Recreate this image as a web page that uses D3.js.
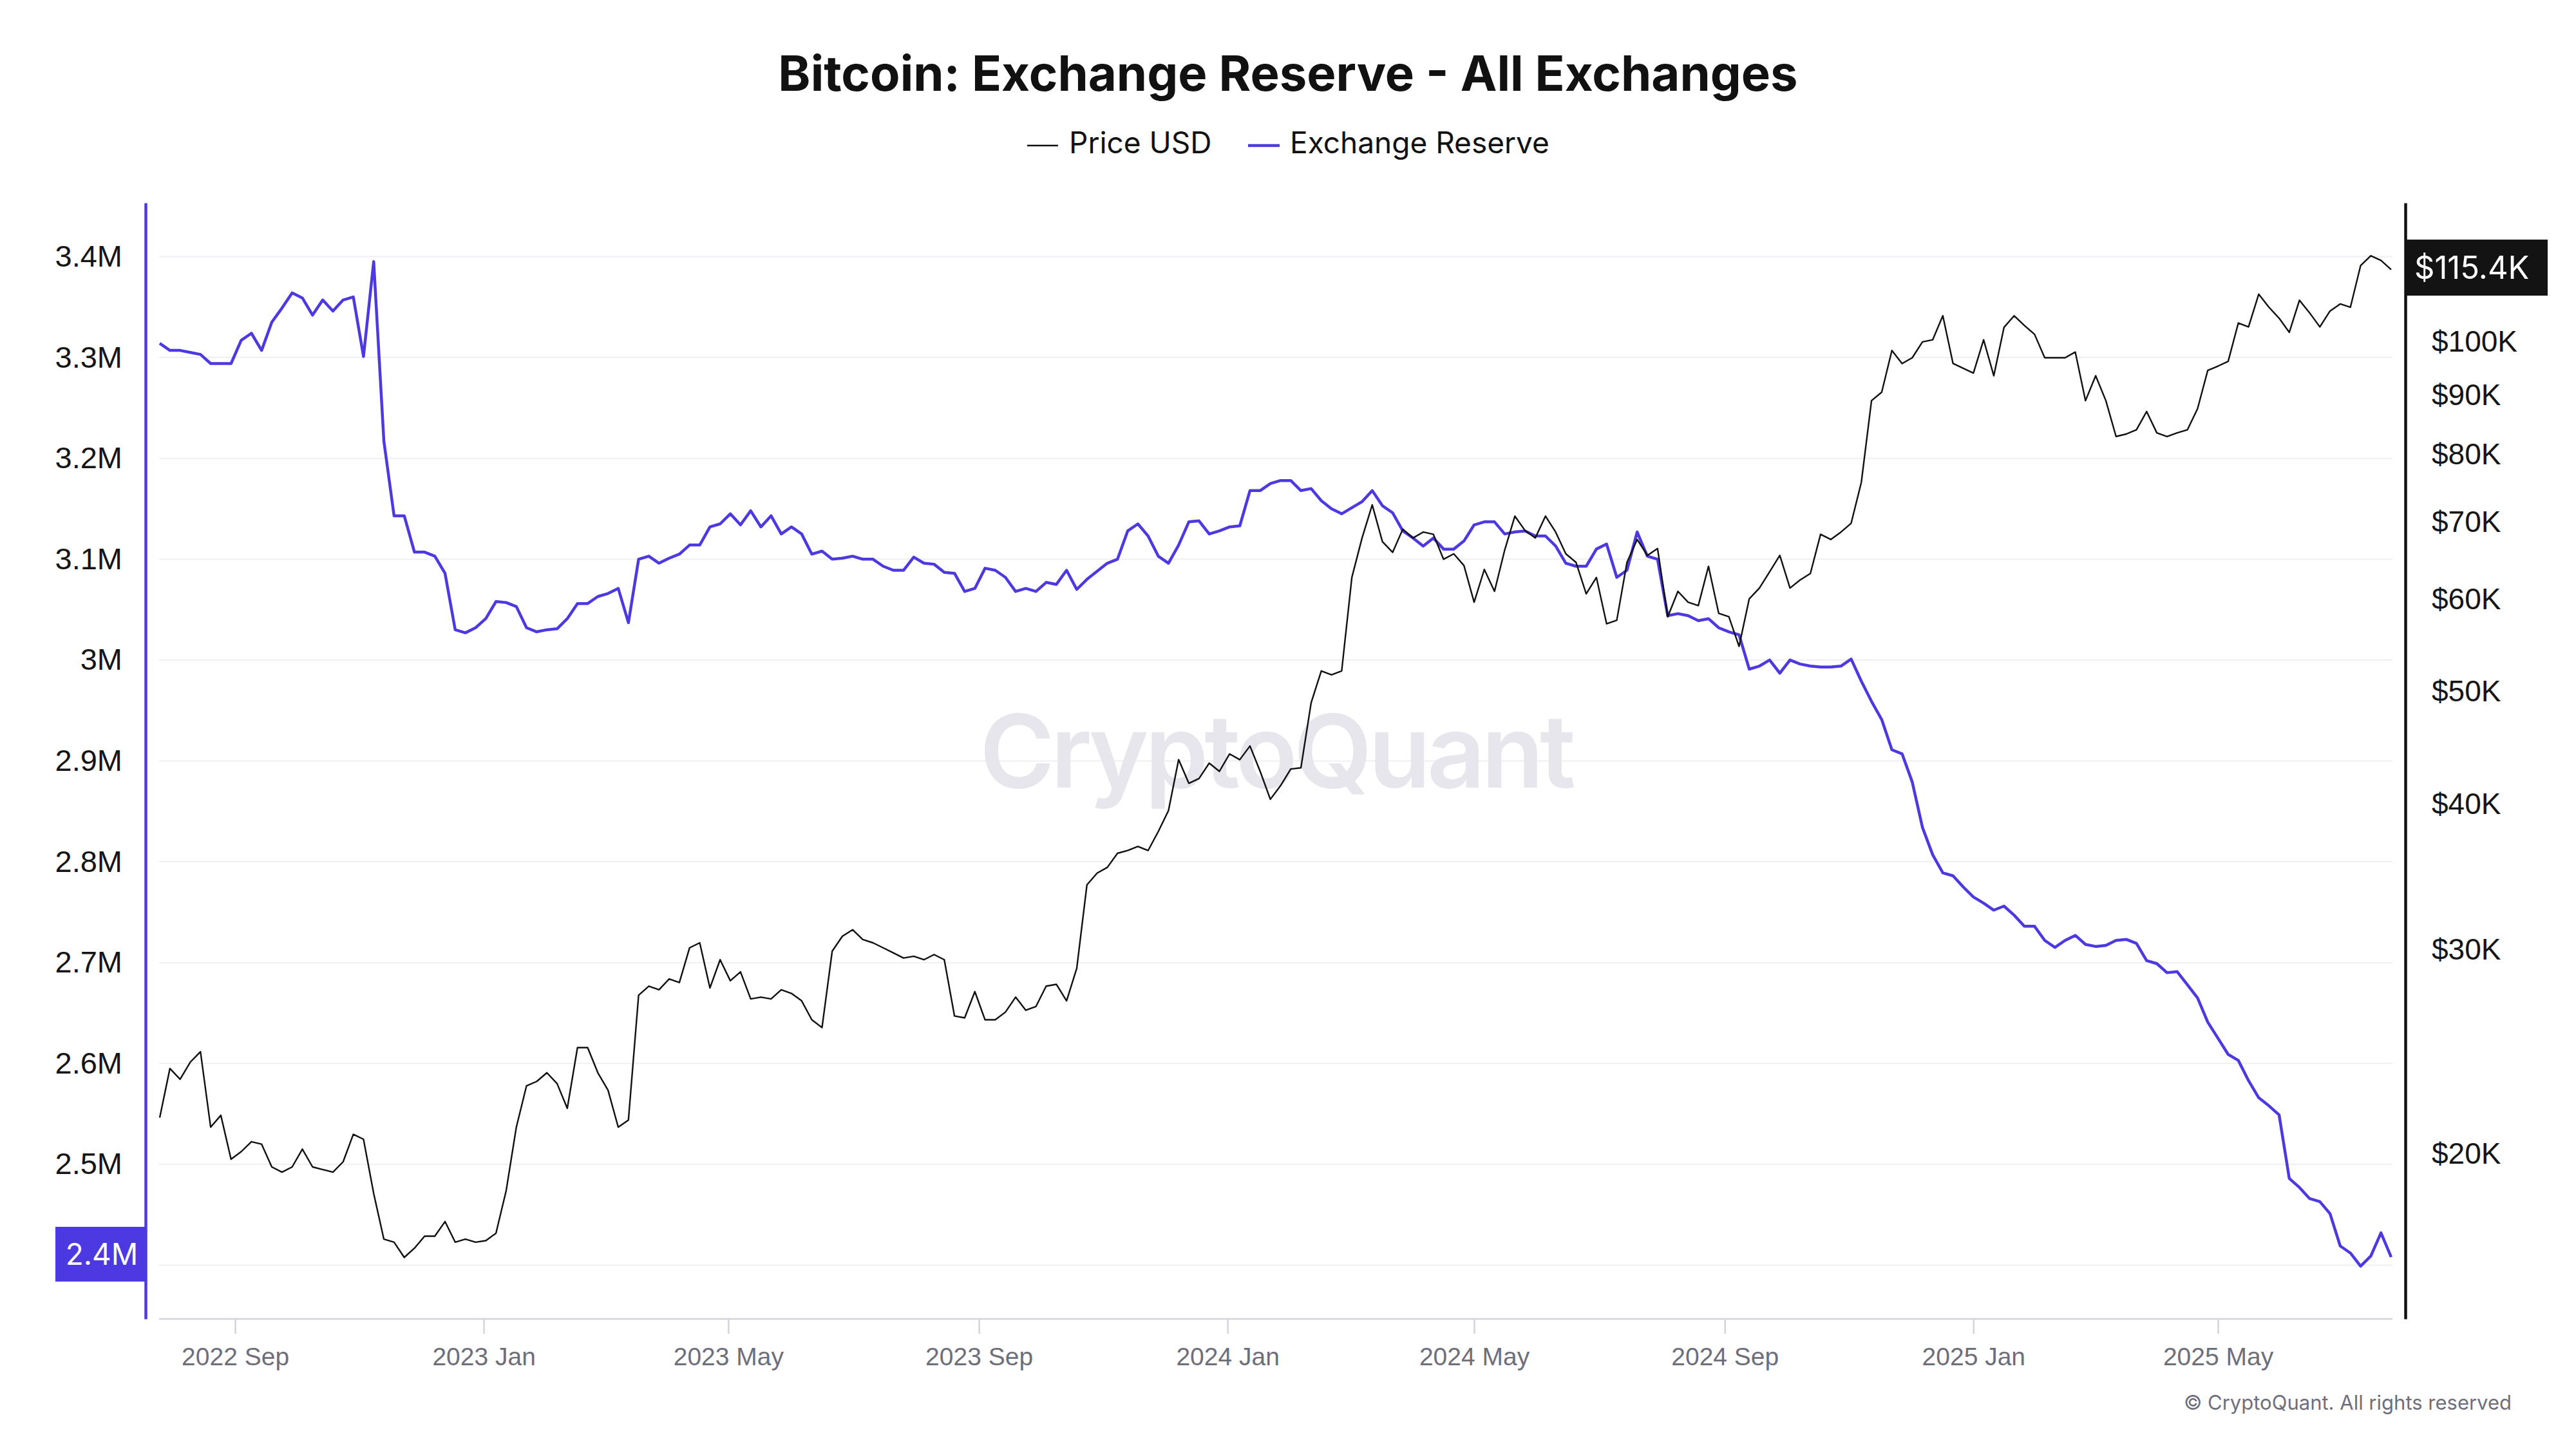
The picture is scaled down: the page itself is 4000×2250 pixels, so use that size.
<!DOCTYPE html>
<html>
<head>
<meta charset="utf-8">
<title>Bitcoin: Exchange Reserve - All Exchanges</title>
<script src="https://d3js.org/d3.v7.min.js"></script>
<style>
  body { margin: 0; background: #fff; }
  svg { display: block; font-family: Inter, "Noto Sans", sans-serif; }
  .grid line { stroke: #efeff3; stroke-width: 2; }
  .xaxis path, .xaxis line { stroke: #d3d3db; stroke-width: 2.5; }
  .xaxis text { fill: #6e6e7a; font-size: 39px; }
  .laxis text, .raxis text { fill: #151515; }
</style>
</head>
<body>
<script>
const width = 4000, height = 2250;

// one reading every 5 days, starting 2022-07-26
const startDate = "2022-07-26";
const stepDays = 5;

// Exchange reserve, million BTC
const reserveM = [
  3.314, 3.307, 3.307, 3.305, 3.303, 3.294, 3.294, 3.294, 3.317, 3.324,
  3.307, 3.335, 3.349, 3.364, 3.359, 3.342, 3.357, 3.346, 3.357, 3.360,
  3.301, 3.395, 3.217, 3.143, 3.143, 3.107, 3.107, 3.103, 3.086, 3.030,
  3.027, 3.032, 3.041, 3.058, 3.057, 3.053, 3.032, 3.028, 3.030, 3.031,
  3.041, 3.056, 3.056, 3.063, 3.066, 3.071, 3.037, 3.100, 3.103, 3.096,
  3.101, 3.105, 3.114, 3.114, 3.132, 3.135, 3.145, 3.134, 3.148, 3.132,
  3.143, 3.125, 3.132, 3.125, 3.105, 3.108, 3.100, 3.101, 3.103, 3.100,
  3.100, 3.093, 3.089, 3.089, 3.102, 3.096, 3.095, 3.087, 3.086, 3.068,
  3.071, 3.091, 3.089, 3.082, 3.068, 3.071, 3.068, 3.077, 3.075, 3.089,
  3.070, 3.080, 3.088, 3.096, 3.100, 3.128, 3.135, 3.123, 3.103, 3.096,
  3.114, 3.137, 3.138, 3.125, 3.128, 3.132, 3.133, 3.168, 3.168, 3.175,
  3.178, 3.178, 3.168, 3.170, 3.158, 3.150, 3.145, 3.151, 3.157, 3.168,
  3.153, 3.146, 3.128, 3.121, 3.113, 3.121, 3.110, 3.110, 3.118, 3.134,
  3.137, 3.137, 3.125, 3.127, 3.128, 3.123, 3.123, 3.113, 3.096, 3.093,
  3.093, 3.110, 3.115, 3.082, 3.089, 3.127, 3.103, 3.100, 3.044, 3.046,
  3.044, 3.039, 3.041, 3.032, 3.028, 3.025, 2.991, 2.994, 3.000, 2.987,
  3.000, 2.996, 2.994, 2.993, 2.993, 2.994, 3.001, 2.979, 2.959, 2.941,
  2.911, 2.907, 2.879, 2.834, 2.807, 2.789, 2.786, 2.775, 2.765, 2.759,
  2.752, 2.756, 2.747, 2.736, 2.736, 2.722, 2.715, 2.722, 2.727, 2.718,
  2.716, 2.717, 2.722, 2.723, 2.719, 2.702, 2.699, 2.690, 2.691, 2.678,
  2.665, 2.641, 2.625, 2.609, 2.603, 2.583, 2.566, 2.558, 2.549, 2.486,
  2.477, 2.466, 2.463, 2.451, 2.419, 2.412, 2.399, 2.409, 2.432, 2.408
];

// Price USD, thousands
const priceK = [
  21.5, 23.7, 23.2, 24.0, 24.5, 21.1, 21.6, 19.8, 20.1, 20.5,
  20.4, 19.5, 19.3, 19.5, 20.2, 19.5, 19.4, 19.3, 19.7, 20.8,
  20.6, 18.5, 16.9, 16.8, 16.3, 16.6, 17.0, 17.0, 17.5, 16.8,
  16.9, 16.8, 16.85, 17.1, 18.6, 21.1, 22.9, 23.1, 23.5, 23.0,
  21.9, 24.7, 24.7, 23.5, 22.7, 21.1, 21.4, 27.4, 27.9, 27.7,
  28.3, 28.1, 30.1, 30.4, 27.8, 29.4, 28.2, 28.7, 27.2, 27.3,
  27.2, 27.7, 27.5, 27.1, 26.1, 25.7, 29.9, 30.8, 31.2, 30.6,
  30.4, 30.1, 29.8, 29.5, 29.6, 29.4, 29.7, 29.4, 26.3, 26.2,
  27.6, 26.1, 26.1, 26.5, 27.3, 26.6, 26.8, 27.9, 28.0, 27.1,
  28.9, 34.1, 34.9, 35.3, 36.3, 36.5, 36.8, 36.5, 37.9, 39.5,
  43.7, 41.7, 42.1, 43.4, 42.7, 44.2, 43.7, 44.9, 42.7, 40.4,
  41.5, 42.9, 43.0, 48.9, 52.1, 51.7, 52.1, 62.7, 67.8, 72.4,
  67.3, 65.9, 69.0, 67.8, 68.6, 68.3, 65.0, 65.7, 64.2, 59.7,
  63.7, 61.0, 66.2, 70.8, 68.8, 67.8, 70.8, 68.6, 65.7, 64.6,
  60.7, 62.7, 57.2, 57.6, 64.6, 67.6, 65.5, 66.4, 58.0, 61.0,
  59.7, 59.3, 64.1, 58.4, 58.0, 54.7, 60.1, 61.4, 63.4, 65.5,
  61.4, 62.4, 63.2, 68.3, 67.6, 68.6, 69.8, 75.7, 89.0, 90.5,
  98.3, 95.8, 96.9, 100.0, 100.4, 105.3, 95.8, 94.9, 94.0, 100.4,
  93.5, 102.9, 105.3, 103.3, 101.5, 96.9, 96.9, 96.9, 98.0, 89.0,
  93.5, 89.0, 82.9, 83.3, 84.0, 87.1, 83.5, 82.9, 83.5, 84.0,
  87.6, 94.5, 95.3, 96.2, 103.8, 103.0, 109.9, 107.1, 104.8, 101.9,
  108.6, 105.9, 103.0, 106.3, 107.8, 107.1, 116.3, 118.6, 117.5, 115.4
];

const reserveTicks = [2.4, 2.5, 2.6, 2.7, 2.8, 2.9, 3.0, 3.1, 3.2, 3.3, 3.4];
const priceTicks = [20, 30, 40, 50, 60, 70, 80, 90, 100];
const seriesNames = ["Price USD", "Exchange Reserve"];

const purple = "#4d39e2";

const t0 = d3.timeParse("%Y-%m-%d")(startDate);
const dates = reserveM.map((_, i) => d3.timeDay.offset(t0, i * stepDays));

const svg = d3.select("body").append("svg").attr("width", width).attr("height", height);

const x = d3.scaleTime().domain([dates[0], dates[dates.length - 1]]).range([248, 3713]);
const yL = d3.scaleLinear().domain([2.3467, 3.4533]).range([2048, 315]);
const yR = d3.scaleLog().domain([14.43, 131.7]).range([2048, 315]);

// title + legend
svg.append("text").attr("x", 2000).attr("y", 141).attr("text-anchor", "middle")
  .attr("font-size", 76).attr("font-weight", 700).attr("fill", "#111")
  .text("Bitcoin: Exchange Reserve - All Exchanges");

const legend = svg.append("g");
legend.append("line").attr("x1", 1595).attr("x2", 1643).attr("y1", 226).attr("y2", 226)
  .attr("stroke", "#111").attr("stroke-width", 2.5);
legend.append("text").attr("x", 1660).attr("y", 238).attr("font-size", 46).attr("fill", "#111").text(seriesNames[0]);
legend.append("line").attr("x1", 1938).attr("x2", 1987).attr("y1", 226).attr("y2", 226)
  .attr("stroke", purple).attr("stroke-width", 4.5);
legend.append("text").attr("x", 2003).attr("y", 238).attr("font-size", 46).attr("fill", "#111").text(seriesNames[1]);

// gridlines
svg.append("g").attr("class", "grid").selectAll("line").data(reserveTicks).join("line")
  .attr("x1", 247).attr("x2", 3715).attr("y1", d => yL(d)).attr("y2", d => yL(d));

// watermark
svg.append("text").attr("x", 1981).attr("y", 1223).attr("text-anchor", "middle")
  .attr("font-size", 158).attr("font-weight", 600).attr("fill", "#e6e6ec")
  .attr("letter-spacing", -6).text("CryptoQuant");

// x axis
svg.append("g").attr("class", "xaxis").attr("transform", "translate(0,2048)")
  .call(d3.axisBottom(x).ticks(d3.timeMonth.every(4)).tickFormat(d3.timeFormat("%Y %b"))
    .tickSize(23).tickSizeOuter(0).tickPadding(21))
  .call(g => g.select(".domain").attr("d", "M247,0H3715"));

// left axis
svg.append("g").attr("class", "laxis").attr("transform", "translate(226,0)")
  .call(d3.axisLeft(yL).tickValues(reserveTicks).tickFormat(d => d3.format("~g")(d) + "M")
    .tickSize(0).tickPadding(36))
  .call(g => g.select(".domain").attr("stroke", purple).attr("stroke-width", 4.5))
  .call(g => g.selectAll("text").attr("font-size", 47));

// right axis
svg.append("g").attr("class", "raxis").attr("transform", "translate(3735,0)")
  .call(d3.axisRight(yR).tickValues(priceTicks).tickFormat(d => "$" + d + "K")
    .tickSize(0).tickPadding(41))
  .call(g => g.select(".domain").attr("stroke", "#111").attr("stroke-width", 4.5))
  .call(g => g.selectAll("text").attr("font-size", 46));

// series
svg.append("path").datum(reserveM)
  .attr("fill", "none").attr("stroke", purple).attr("stroke-width", 4.5).attr("stroke-linejoin", "round")
  .attr("d", d3.line().x((d, i) => x(dates[i])).y(d => yL(d)));

svg.append("path").datum(priceK)
  .attr("fill", "none").attr("stroke", "#111").attr("stroke-width", 2.4).attr("stroke-linejoin", "round")
  .attr("d", d3.line().x((d, i) => x(dates[i])).y(d => yR(d)));

// last value badges
const lastPrice = priceK[priceK.length - 1];
const lastRes = reserveM[reserveM.length - 1];
const pb = svg.append("g").attr("transform", `translate(3735,${yR(lastPrice) - 3})`);
pb.append("rect").attr("x", 0).attr("y", -43.5).attr("width", 221).attr("height", 87).attr("fill", "#131313");
pb.append("text").attr("x", 14).attr("y", 0).attr("dy", "0.36em").attr("font-size", 49).attr("fill", "#fff")
  .text("$" + lastPrice + "K");

const rb = svg.append("g").attr("transform", `translate(86,${yL(lastRes) - 4.5})`);
rb.append("rect").attr("x", 0).attr("y", -42.5).attr("width", 141).attr("height", 85).attr("fill", purple);
rb.append("text").attr("x", 72).attr("y", 0).attr("dy", "0.36em").attr("text-anchor", "middle")
  .attr("font-size", 46).attr("fill", "#fff").text(d3.format(".1f")(lastRes) + "M");

// footer
svg.append("text").attr("x", 3900).attr("y", 2189).attr("text-anchor", "end")
  .attr("font-size", 31).attr("fill", "#6f6f7c").text("© CryptoQuant. All rights reserved");
</script>
</body>
</html>
